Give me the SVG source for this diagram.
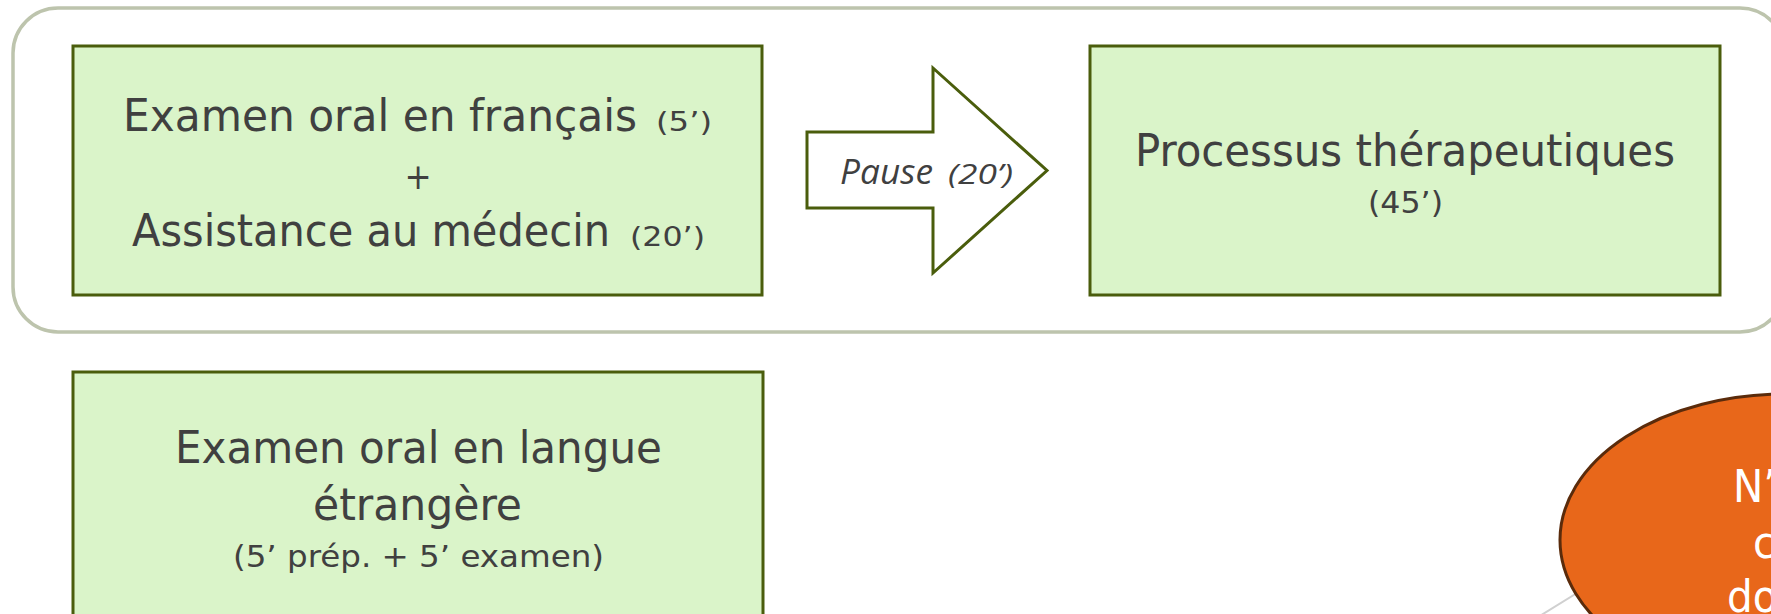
<svg xmlns="http://www.w3.org/2000/svg" width="1771" height="614" viewBox="0 0 1771 614">
<style>
.box{fill:#daf4c9;stroke:#4a5d0c;stroke-width:3}
.t{font-family:"DejaVu Sans Condensed","Liberation Sans Narrow","DejaVu Sans",sans-serif;fill:#404040;font-size:45px}
.s{font-size:30px}
.ss{font-size:27px}
.p{font-size:36px}
.i{font-family:"Open Sans","Liberation Sans",sans-serif;font-style:italic;fill:#404040}
.w{font-family:"DejaVu Sans Condensed","DejaVu Sans",sans-serif;fill:#ffffff;font-size:45px}
</style>
<rect id="group-frame" x="13" y="8" width="1772" height="324" rx="45" ry="45" fill="#ffffff" stroke="#bdc4ad" stroke-width="3.5"/>
<g id="connectors">
<line x1="1611" y1="572" x2="1509" y2="635" stroke="#d0d0d0" stroke-width="2"/>
<path id="arrow-pause" d="M807,132 L933,132 L933,68 L1047,170.5 L933,273 L933,208 L807,208 Z" fill="#ffffff" stroke="#4a5d0c" stroke-width="3" stroke-linejoin="miter"/>
<text class="i" x="840" y="184" font-size="34" textLength="93" lengthAdjust="spacingAndGlyphs">Pause</text>
<text class="i" x="948" y="184" font-size="27" textLength="65" lengthAdjust="spacingAndGlyphs">(20’)</text>
</g>
<g id="node-examen-francais">
<rect class="box" x="73" y="46" width="689" height="249"/>
<text class="t" x="123" y="131" textLength="514" lengthAdjust="spacingAndGlyphs">Examen oral en français</text>
<text class="t ss" x="656" y="131" textLength="56" lengthAdjust="spacingAndGlyphs">(5’)</text>
<text class="t p" x="418" y="189" text-anchor="middle">+</text>
<text class="t" x="132" y="246" textLength="478" lengthAdjust="spacingAndGlyphs">Assistance au médecin</text>
<text class="t ss" x="630" y="246" textLength="75" lengthAdjust="spacingAndGlyphs">(20’)</text>
</g>
<g id="node-processus">
<rect class="box" x="1090" y="46" width="630" height="249"/>
<text class="t" x="1135" y="166" textLength="540" lengthAdjust="spacingAndGlyphs">Processus thérapeutiques</text>
<text class="t s" x="1368" y="213" textLength="75" lengthAdjust="spacingAndGlyphs">(45’)</text>
</g>
<g id="node-langue-etrangere">
<rect class="box" x="73" y="372" width="690" height="260"/>
<text class="t" x="175" y="463" textLength="487" lengthAdjust="spacingAndGlyphs">Examen oral en langue</text>
<text class="t" x="313" y="520" textLength="209" lengthAdjust="spacingAndGlyphs">étrangère</text>
<text class="t s" x="233" y="567" textLength="371" lengthAdjust="spacingAndGlyphs">(5’ prép. + 5’ examen)</text>
</g>
<g id="node-ellipse">
<ellipse cx="1785" cy="540" rx="225" ry="146" fill="#e8671a" stroke="#5a2b0b" stroke-width="3"/>
<text class="w" x="1733" y="502">N’</text>
<text class="w" x="1753" y="558">c</text>
<text class="w" x="1727" y="612">do</text>
</g>
</svg>
